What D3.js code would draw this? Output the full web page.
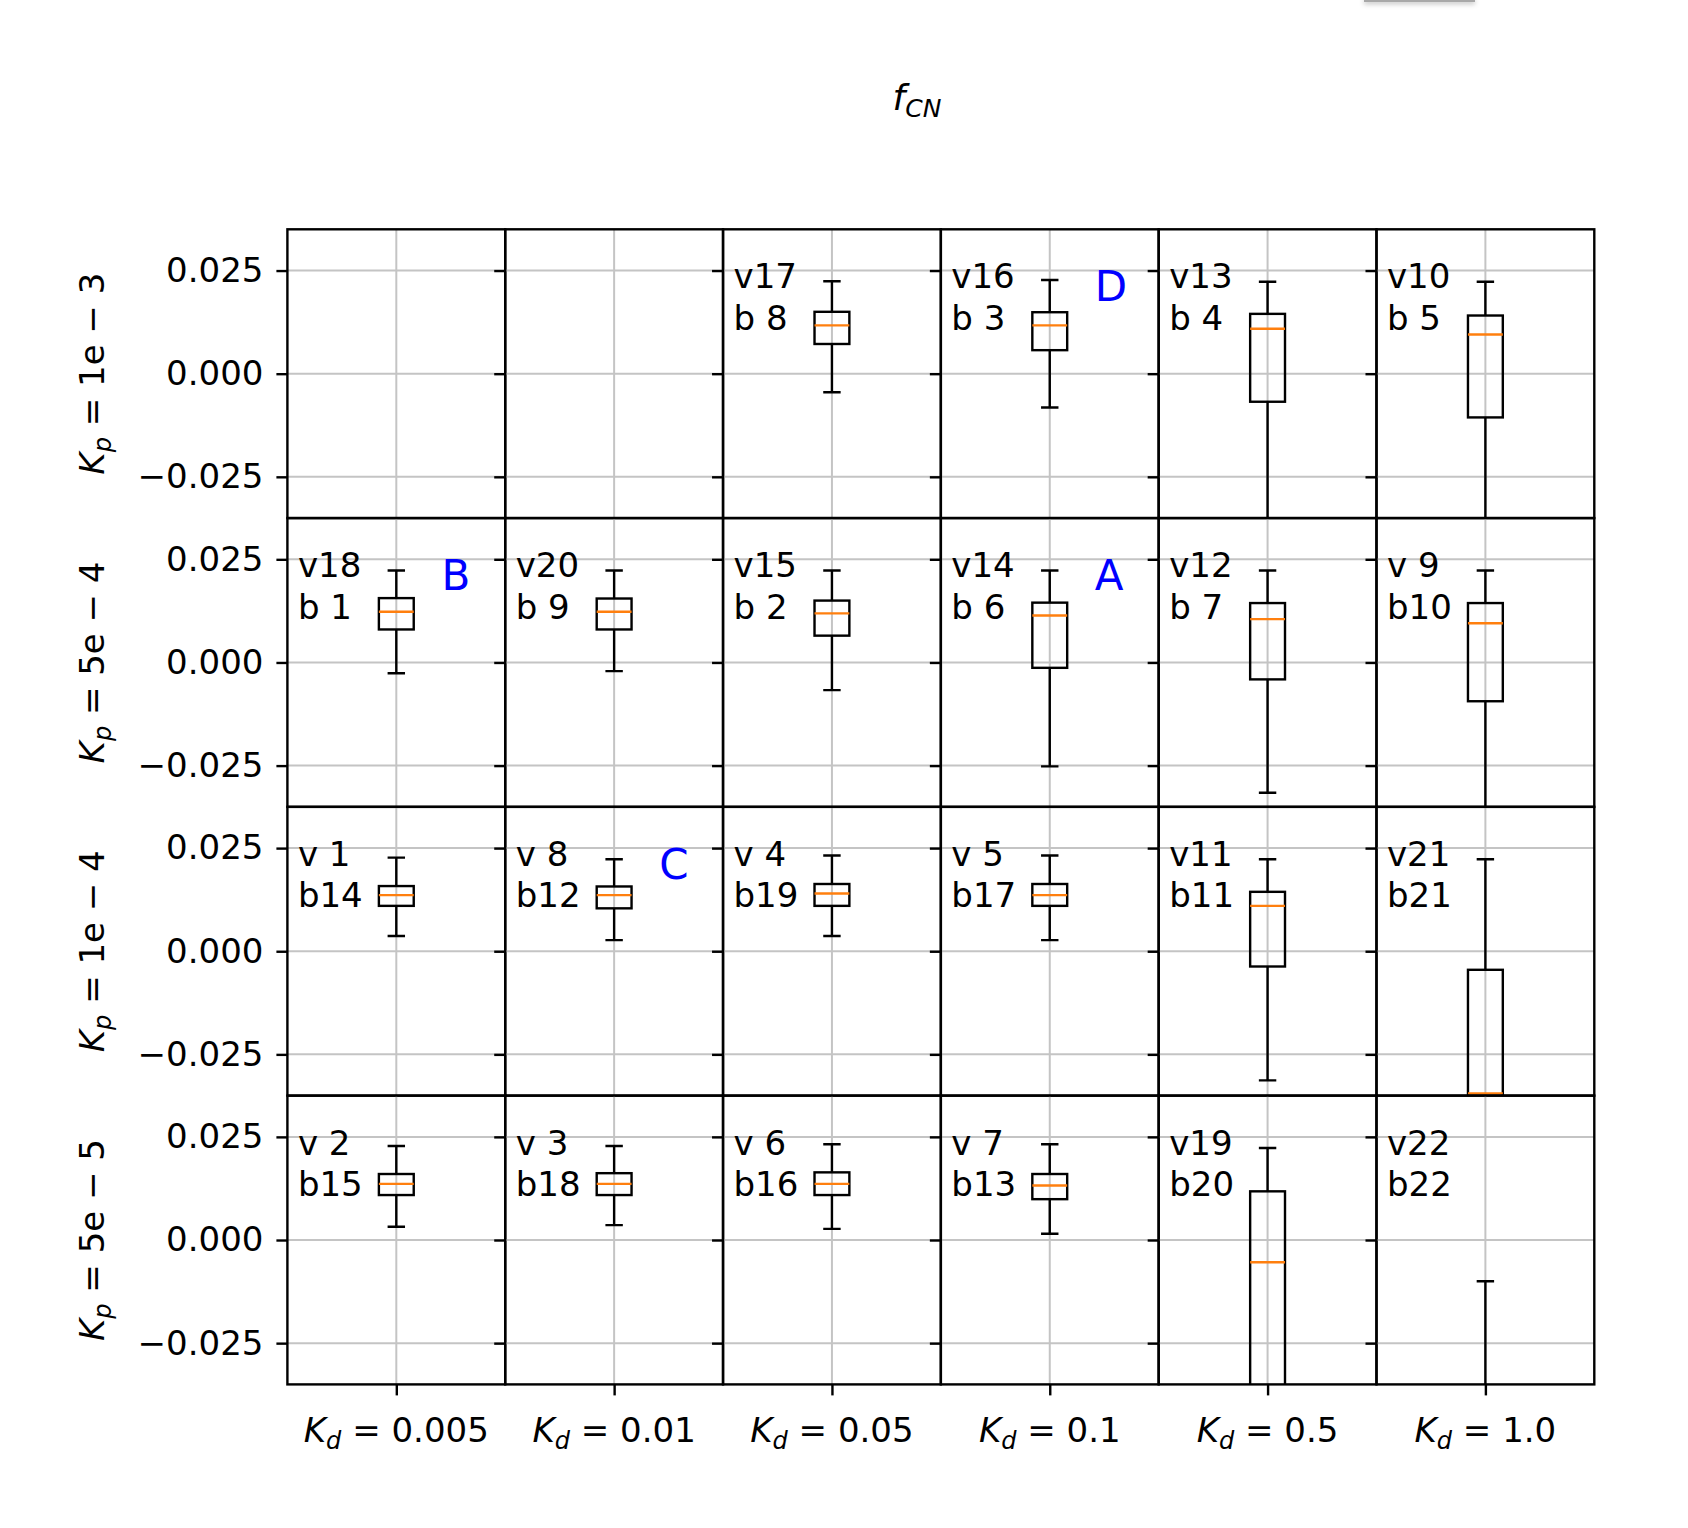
<!DOCTYPE html>
<html>
<head>
<meta charset="utf-8">
<script src="https://cdn.jsdelivr.net/npm/d3@7"></script>
<style>
  html, body { margin: 0; padding: 0; background: #fff; }
  svg { display: block; }
  text { font-family: "DejaVu Sans", sans-serif; fill: #000; }
</style>
</head>
<body>
<script>
// ---------- data ----------
const kdLabels = ["0.005", "0.01", "0.05", "0.1", "0.5", "1.0"];
const kpLabels = ["1e − 3", "5e − 4", "1e − 4", "5e − 5"];
const yTickValues = [-0.025, 0, 0.025];
const yDomain = [-0.035, 0.035];

// panel annotations (row-major, rows = Kp, cols = Kd)
const runLabels = [
  [null, null, "v17", "v16", "v13", "v10"],
  ["v18", "v20", "v15", "v14", "v12", "v 9"],
  ["v 1", "v 8", "v 4", "v 5", "v11", "v21"],
  ["v 2", "v 3", "v 6", "v 7", "v19", "v22"]
];
const batchLabels = [
  [null, null, "b 8", "b 3", "b 4", "b 5"],
  ["b 1", "b 9", "b 2", "b 6", "b 7", "b10"],
  ["b14", "b12", "b19", "b17", "b11", "b21"],
  ["b15", "b18", "b16", "b13", "b20", "b22"]
];

// box statistics (null = no data)
const whiskerLow = [
  [null, null, -0.0045, -0.0082, -0.0500, -0.0550],
  [-0.0026, -0.0021, -0.0067, -0.0252, -0.0316, -0.0500],
  [0.0037, 0.0027, 0.0037, 0.0027, -0.0313, -0.0600],
  [0.0032, 0.0036, 0.0027, 0.0015, -0.0600, -0.0800]
];
const quart1 = [
  [null, null, 0.0072, 0.0057, -0.0068, -0.0106],
  [0.0080, 0.0080, 0.0065, -0.0013, -0.0041, -0.0094],
  [0.0110, 0.0104, 0.0110, 0.0110, -0.0037, -0.0450],
  [0.0109, 0.0109, 0.0109, 0.0099, -0.0450, -0.0700]
];
const medians = [
  [null, null, 0.0117, 0.0117, 0.0109, 0.0095],
  [0.0123, 0.0123, 0.0119, 0.0114, 0.0105, 0.0095],
  [0.0136, 0.0136, 0.0140, 0.0136, 0.0110, -0.0345],
  [0.0136, 0.0136, 0.0136, 0.0132, -0.0054, -0.0600]
];
const quart3 = [
  [null, null, 0.0150, 0.0149, 0.0145, 0.0141],
  [0.0156, 0.0155, 0.0150, 0.0145, 0.0144, 0.0144],
  [0.0158, 0.0157, 0.0163, 0.0163, 0.0144, -0.0045],
  [0.0160, 0.0162, 0.0164, 0.0160, 0.0118, -0.0500]
];
const whiskerHigh = [
  [null, null, 0.0224, 0.0227, 0.0223, 0.0223],
  [0.0223, 0.0223, 0.0223, 0.0223, 0.0223, 0.0223],
  [0.0227, 0.0223, 0.0232, 0.0232, 0.0223, 0.0223],
  [0.0228, 0.0228, 0.0232, 0.0232, 0.0223, -0.0100]
];

// blue marker letters
const markerLetters = ["D", "A", "B", "C"];
const markerRows = [0, 1, 1, 2];
const markerCols = [3, 3, 0, 1];

// ---------- drawing ----------
const W = 1688, H = 1528;
const svg = d3.select("body").append("svg")
  .attr("width", W).attr("height", H)
  .attr("viewBox", `0 0 ${W} ${H}`);

svg.append("rect").attr("width", W).attr("height", H).attr("fill", "#fff");

// small grey tab at the very top (screenshot artefact)
const defs = svg.append("defs");
const f = defs.append("filter").attr("id", "sh").attr("x", "-20%").attr("y", "-200%").attr("width", "140%").attr("height", "600%");
f.append("feDropShadow").attr("dx", 0).attr("dy", 2).attr("stdDeviation", 2.5).attr("flood-color", "#000").attr("flood-opacity", 0.25);
svg.append("rect").attr("x", 1364).attr("y", -2).attr("width", 111).attr("height", 4)
  .attr("fill", "#a8a8a8").attr("filter", "url(#sh)");

const colBand = d3.scaleBand().domain(kdLabels).range([287.4, 1594.3]).padding(0);
const rowBand = d3.scaleBand().domain(kpLabels).range([229.3, 1384.4]).padding(0);
const bw = colBand.bandwidth(), bh = rowBand.bandwidth();
const x = d3.scaleLinear().domain([0.5, 1.5]).range([0, bw]);
const y = d3.scaleLinear().domain(yDomain).range([bh, 0]);

defs.append("clipPath").attr("id", "panelClip")
  .append("rect").attr("x", 0).attr("y", 0).attr("width", bw).attr("height", bh);

const fmt = v => (v < 0 ? "−" : "") + d3.format(".3f")(Math.abs(v));
const boxW = 0.16, capW = 0.08;
const lw = 2.4;

// title
const title = svg.append("text")
  .attr("x", 917).attr("y", 110)
  .attr("text-anchor", "middle")
  .style("font-size", "36px");
title.append("tspan").attr("font-style", "italic").text("f");
title.append("tspan").attr("font-style", "italic").attr("font-size", "25px").attr("dy", 7).text("CN");

kpLabels.forEach((kp, r) => {
  kdLabels.forEach((kd, c) => {
    const g = svg.append("g").attr("transform", `translate(${colBand(kd)},${rowBand(kp)})`);

    // grid
    const grid = g.append("g").attr("stroke", "#c4c4c4").attr("stroke-width", 2);
    grid.selectAll("line.h").data(yTickValues).join("line")
      .attr("x1", 0).attr("x2", bw).attr("y1", d => y(d)).attr("y2", d => y(d));
    grid.append("line").attr("x1", x(1)).attr("x2", x(1)).attr("y1", 0).attr("y2", bh);

    // box plot
    if (medians[r][c] !== null) {
      const b = g.append("g").attr("clip-path", "url(#panelClip)")
        .attr("stroke", "#000").attr("stroke-width", lw).attr("fill", "none");
      const lo = whiskerLow[r][c], q1 = quart1[r][c], md = medians[r][c],
            q3 = quart3[r][c], hi = whiskerHigh[r][c];
      b.append("line").attr("x1", x(1)).attr("x2", x(1)).attr("y1", y(q3)).attr("y2", y(hi));
      b.append("line").attr("x1", x(1)).attr("x2", x(1)).attr("y1", y(q1)).attr("y2", y(lo));
      b.append("line").attr("x1", x(1 - capW / 2)).attr("x2", x(1 + capW / 2)).attr("y1", y(hi)).attr("y2", y(hi));
      b.append("line").attr("x1", x(1 - capW / 2)).attr("x2", x(1 + capW / 2)).attr("y1", y(lo)).attr("y2", y(lo));
      b.append("rect").attr("x", x(1 - boxW / 2)).attr("width", x(1 + boxW / 2) - x(1 - boxW / 2))
        .attr("y", y(q3)).attr("height", y(q1) - y(q3));
      b.append("line").attr("x1", x(1 - boxW / 2)).attr("x2", x(1 + boxW / 2))
        .attr("y1", y(md)).attr("y2", y(md)).attr("stroke", "#ff7f0e");
    }

    // left axis ticks (labels only on first column)
    const ax = g.append("g").call(
      d3.axisLeft(y).tickValues(yTickValues).tickSize(11).tickPadding(13)
        .tickFormat(c === 0 ? fmt : () => "")
    );
    ax.select(".domain").remove();
    ax.selectAll(".tick line").attr("stroke", "#000").attr("stroke-width", lw);
    ax.selectAll(".tick text").style("font-size", "34px").attr("fill", "#000")
      .style("font-family", "'DejaVu Sans', sans-serif");

    // bottom x tick on last row
    if (r === kpLabels.length - 1) {
      const bx = g.append("g").attr("transform", `translate(0,${bh})`).call(
        d3.axisBottom(x).tickValues([1]).tickSize(11).tickFormat(() => "")
      );
      bx.select(".domain").remove();
      bx.selectAll(".tick line").attr("stroke", "#000").attr("stroke-width", lw);
    }

    // frame
    g.append("rect").attr("x", 0).attr("y", 0).attr("width", bw).attr("height", bh)
      .attr("fill", "none").attr("stroke", "#000").attr("stroke-width", lw);

    // panel annotation
    if (runLabels[r][c] !== null) {
      const t = g.append("text").attr("x", 10.5).attr("y", 59)
        .style("font-size", "34px").style("white-space", "pre").attr("xml:space", "preserve");
      t.append("tspan").attr("x", 10.5).text(runLabels[r][c]);
      t.append("tspan").attr("x", 10.5).attr("dy", 41.5).text(batchLabels[r][c]);
    }
  });
});

// blue letters
markerLetters.forEach((L, i) => {
  svg.append("text")
    .attr("x", colBand(kdLabels[markerCols[i]]) + 154)
    .attr("y", rowBand(kpLabels[markerRows[i]]) + 72)
    .style("font-size", "42px")
    .attr("fill", "#0000ff").style("fill", "#0000ff")
    .text(L);
});

// column labels (K_d = ...)
kdLabels.forEach(kd => {
  const t = svg.append("text")
    .attr("x", colBand(kd) + x(1)).attr("y", 1442)
    .attr("text-anchor", "middle").style("font-size", "34px").attr("xml:space", "preserve");
  t.append("tspan").attr("font-style", "italic").text("K");
  t.append("tspan").attr("font-style", "italic").attr("font-size", "24px").attr("dy", 7).text("d");
  t.append("tspan").attr("dy", -7).text(" = " + kd);
});

// row labels (K_p = ...)
kpLabels.forEach(kp => {
  const t = svg.append("text")
    .attr("transform", `translate(104,${rowBand(kp) + bh / 2}) rotate(-90)`)
    .attr("text-anchor", "middle").style("font-size", "34px").attr("xml:space", "preserve");
  t.append("tspan").attr("font-style", "italic").text("K");
  t.append("tspan").attr("font-style", "italic").attr("font-size", "24px").attr("dy", 7).text("p");
  t.append("tspan").attr("dy", -7).text(" = " + kp);
});
</script>
</body>
</html>
